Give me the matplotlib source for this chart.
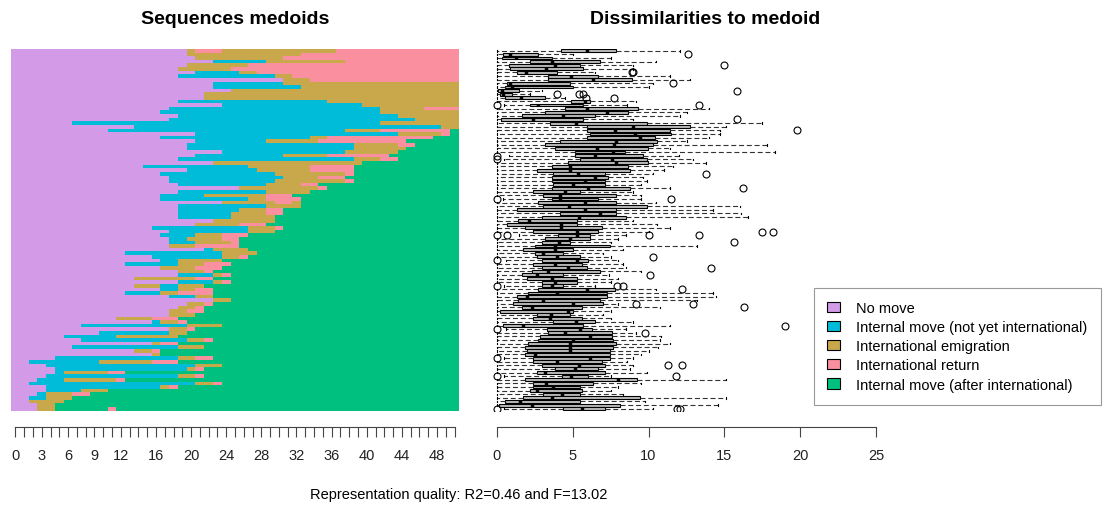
import matplotlib
matplotlib.use("Agg")
import matplotlib.pyplot as plt
from matplotlib.patches import Patch

plt.rcParams['font.family'] = ['Liberation Sans', 'DejaVu Sans']

# Etats et couleurs
state_codes = ["A", "B", "C", "D", "E"]
state_labels = ["No move",
                "Internal move (not yet international)",
                "International emigration",
                "International return",
                "Internal move (after international)"]
state_colors = ["#D39AE8", "#00BCD8", "#C8A84B", "#FA8FA0", "#00C080"]

# Sequences medoids (codage par plages : etat + duree), du haut vers le bas
seq_rows = [
    "A20 C1 D3 C13 D14", "A20 C13 D18", "A21 C10 D20", "A23 B6 C9 D13", "A20 C7 D24",
    "A19 C6 D26", "A21 B5 C2 D23", "A19 B11 C2 D19", "A31 C3 D17", "A23 B8 C20",
    "A23 B10 C18", "A25 C26", "A22 C29", "A22 C29", "A19 B17 C15",
    "A24 B16 C11", "A18 B24 C5 D4", "A17 B25 C9", "A19 B25 C7", "A18 B28 C5",
    "A7 B35 C9", "A14 B35 C2", "A11 B27 C4 D8 E1", "A21 B23 C5 D1 E1", "A17 B17 C2 D12 E3",
    "A21 B8 C6 D10 E6", "A20 B19 C5 D2 E5", "A20 B19 C6 E6", "A24 B14 C6 E7", "A21 B10 C5 D7 E8",
    "A19 B20 C3 D2 E7", "A23 C17 E11", "A15 B12 C7 D5 E12", "A20 B8 C6 D5 E12", "A17 B13 C8 D1 E12",
    "A18 B13 C4 D3 E13", "A18 B12 C8 D1 E12", "A19 B10 C4 D2 E16", "A26 C9 D1 E15", "A19 B10 C5 E17",
    "A17 B5 C7 D3 E19", "A17 B10 C2 D4 E18", "A24 C6 D2 C1 E18", "A19 B10 C4 E18", "A19 B7 C3 D2 E20",
    "A19 B6 C4 D2 E20", "A19 B6 C5 E21", "A23 C7 E21", "A21 C5 D3 E22", "A16 B11 C3 D1 E20",
    "A18 B9 C3 E21", "A17 B4 C3 D3 E24", "A18 B2 C4 D2 E25", "A18 B3 C4 D1 E25", "A18 C3 D5 E25",
    "A22 B1 C4 E24", "A13 B11 C4 E23", "A16 B8 C2 D1 E24", "A17 B2 C5 E27", "A13 B6 C3 D3 E26",
    "A17 C4 D3 E27", "A19 C3 D1 E28", "A19 B4 C1 D1 E26", "A14 C7 D2 E28", "A19 B4 C1 D1 E26",
    "A14 C3 B2 C3 E29", "A17 B2 C2 D2 E28", "A13 B4 C2 D4 E28", "A18 B3 C2 E28", "A23 C2 E26",
    "A20 C2 D1 E28", "A19 C2 D1 E29", "A18 C2 D2 E29", "A18 C3 E30", "A12 C4 D3 E32",
    "A16 B1 C2 D1 E31", "A8 B12 C4 E27", "A18 C2 D1 E30", "A10 B8 C2 E31", "A6 B6 C7 E32",
    "A8 B12 C2 D1 E28", "A16 C1 D2 E32", "A7 B12 C3 E29", "A14 C2 D1 E34", "A16 C1 E34",
    "A5 B14 C2 D2 E28", "A2 B8 C6 D3 E32", "A4 B17 C3 E27", "A5 B15 C1 D1 E29", "A5 B1 C5 D2 E38",
    "A4 B15 C2 D1 E29", "A3 B3 C6 D1 E38", "A2 B19 C2 D1 E27", "A4 B13 C1 D1 E32", "A4 B4 C3 E40",
    "A3 B1 C3 D2 E42", "A2 B2 C3 E44", "A2 C4 E45", "A3 C2 E46", "A3 C2 E6 D1 E39",
]

# Dissimilarites au medoide (statistiques des boites), meme ordre
box_q1 = [4.23, 0.44, 0.33, 2.19, 0.83, 0.88, 1.32, 3.40, 3.40, 0.66,
          0.55, 0.11, 0.22, 0.55, 4.93, 2.19, 4.50, 3.18, 1.64, 0.26,
          3.51, 5.96, 5.96, 6.14, 5.92, 4.17, 3.18, 3.84, 5.15, 5.15,
          5.48, 4.71, 3.62, 2.63, 3.73, 3.62, 3.62, 3.73, 3.62, 2.41,
          3.07, 3.62, 2.74, 3.07, 1.32, 4.17, 2.96, 1.43, 0.70, 1.86,
          2.41, 4.06, 3.18, 2.96, 2.52, 1.75, 2.52, 2.63, 2.96, 2.41,
          2.96, 2.30, 1.64, 1.97, 2.96, 2.96, 2.74, 2.08, 1.32, 1.43,
          1.10, 1.64, 0.22, 2.63, 2.41, 3.73, 0.44, 3.29, 3.40, 2.85,
          2.74, 2.08, 1.86, 1.97, 1.86, 2.41, 2.41, 2.96, 3.84, 2.63,
          4.28, 1.86, 2.41, 2.41, 2.19, 3.07, 1.75, 0.55, 0.18, 4.39]
box_med = [5.96, 0.88, 1.27, 3.62, 3.84, 3.22, 1.91, 4.87, 6.36, 0.88,
           0.99, 0.33, 0.44, 1.58, 5.81, 2.74, 5.96, 7.24, 4.34, 2.41,
           5.20, 8.99, 7.79, 9.10, 9.43, 7.89, 7.74, 6.58, 7.68, 6.47,
           7.57, 7.89, 4.82, 4.82, 5.37, 6.47, 5.81, 5.04, 6.03, 4.50,
           4.17, 4.17, 5.81, 4.78, 5.81, 6.80, 5.44, 2.15, 4.23, 4.21,
           5.26, 5.26, 4.82, 4.12, 3.84, 3.84, 3.07, 3.95, 5.26, 3.84,
           4.71, 3.40, 2.63, 3.62, 3.84, 3.62, 5.92, 3.95, 1.97, 3.07,
           5.04, 2.30, 4.71, 3.55, 3.51, 5.20, 1.75, 5.48, 4.50, 6.14,
           5.04, 4.82, 4.82, 4.82, 2.52, 6.14, 3.95, 5.44, 5.15, 3.18,
           4.87, 8.00, 3.25, 3.68, 2.63, 4.28, 3.62, 1.54, 2.30, 5.59]
box_q3 = [7.89, 2.74, 3.62, 6.80, 5.48, 5.70, 3.95, 6.69, 8.88, 4.82,
          5.04, 1.50, 0.99, 3.18, 6.14, 5.70, 9.32, 8.66, 6.47, 5.70,
          9.87, 12.72, 11.40, 11.51, 10.42, 10.53, 10.31, 9.98, 8.44, 9.65,
          9.87, 9.98, 8.66, 8.77, 7.13, 7.35, 7.13, 7.13, 8.77, 5.48,
          7.89, 6.69, 7.89, 9.87, 7.89, 7.89, 8.55, 5.26, 5.26, 6.91,
          6.69, 6.14, 6.14, 4.82, 7.46, 5.04, 4.39, 5.48, 6.03, 5.59,
          5.92, 6.80, 4.39, 5.26, 5.26, 4.39, 7.79, 7.24, 7.24, 6.80,
          7.02, 5.59, 5.04, 4.82, 5.59, 6.47, 5.70, 6.25, 7.57, 7.57,
          7.68, 7.89, 7.68, 7.46, 7.46, 7.46, 6.91, 7.13, 6.69, 7.13,
          6.03, 9.21, 6.36, 5.48, 5.59, 5.48, 9.43, 5.48, 8.11, 7.13]
box_lo = [0, 0, 0, 0, 0, 0, 0, 0, 0, 0,
          0, 0, 0, 0, 0, 0.5, 0, 0, 0, 0,
          0, 0, 0, 0, 0, 0, 0, 0, 0, 0.8,
          0.5, 0, 0, 0, 0, 0, 0, 0, 0, 0,
          0, 0.4, 0, 0, 0, 0, 0, 0, 0, 0,
          0, 1.5, 0, 0, 0, 0, 0, 0, 0.6, 0,
          0, 0, 0, 0, 0, 0.5, 0, 0, 0, 0,
          0, 0, 0, 0, 0, 0, 0, 0.6, 0, 0,
          0, 0, 0, 0, 0, 0.5, 0, 0, 0, 0,
          0.5, 0, 0, 0, 0, 0, 0, 0, 0, 0.5]
box_hi = [12.1, 5.0, 7.5, 10.5, 9.0, 9.0, 6.5, 11.4, 12.7, 10.3,
          10.0, 3.0, 2.2, 4.5, 9.2, 8.6, 14.0, 12.5, 12.1, 9.0,
          17.5, 15.1, 14.7, 14.7, 14.0, 12.5, 17.8, 11.4, 18.3, 12.0,
          12.9, 13.8, 11.6, 11.0, 10.3, 9.65, 9.87, 9.5, 11.4, 8.99,
          9.5, 9.5, 10.5, 16.0, 14.25, 16.12, 16.56, 8.99, 10.53, 11.4,
          10.0, 8.5, 8.0, 7.5, 13.16, 8.33, 7.0, 7.5, 8.0, 8.3,
          8.5, 9.5, 7.4, 8.0, 7.5, 6.5, 10.5, 14.25, 14.47, 13.16,
          8.0, 10.75, 7.5, 7.0, 7.5, 9.0, 11.4, 8.5, 9.2, 10.8,
          10.75, 11.4, 10.6, 10.0, 9.5, 9.0, 8.6, 9.0, 8.8, 9.9,
          7.5, 15.13, 9.5, 8.0, 7.5, 8.3, 15.13, 9.8, 14.6, 10.3]
box_fliers = {0: [], 1: [12.6], 4: [15.0], 6: [8.9, 9.0], 9: [11.6], 11: [15.8],
              12: [3.95, 5.4, 5.7], 13: [5.9, 7.7], 15: [0.0, 13.3], 19: [15.8],
              22: [19.8], 29: [0.0], 30: [0.0], 34: [13.8], 38: [16.2],
              41: [0.0, 11.5], 50: [17.5, 18.2], 51: [0.0, 0.7, 10.0, 13.3],
              53: [15.6], 57: [10.3], 58: [0.0], 60: [14.1], 62: [10.1],
              65: [0.0, 7.9, 8.3], 66: [12.2], 70: [9.2, 12.9], 71: [16.3],
              76: [19.0], 77: [0.0], 78: [9.8], 85: [0.0], 87: [11.3, 12.2],
              90: [0.0, 11.8], 99: [0.0, 11.9, 12.1]}

x_ticks_left = list(range(0, 51))
x_labels_left = [0, 3, 6, 9, 12, 16, 20, 24, 28, 32, 36, 40, 44, 48]
x_ticks_right = [0, 5, 10, 15, 20, 25]

n_rows = len(seq_rows)
W, H = 1105, 506
fig = plt.figure(figsize=(W / 100, H / 100), dpi=100)

bottom = (H - 411.5) / H
height = 361.5 / H
ax1 = fig.add_axes([11 / W, bottom, 448 / W, height])
ax2 = fig.add_axes([489 / W, bottom, 395 / W, height])

# --- Panneau gauche : tapis de sequences
color_of = dict(zip(state_codes, state_colors))
for i, row in enumerate(seq_rows):
    start = 0
    for token in row.split():
        code, length = token[0], int(token[1:])
        ax1.barh(i, length, left=start - 0.5, height=1.0,
                 color=color_of[code], linewidth=0)
        start += length

ax1.set_xlim(-0.5, 50.5)
ax1.set_ylim(n_rows - 0.5, -0.5)

# --- Panneau droit : boites a moustaches
stats = []
for i in range(n_rows):
    stats.append(dict(q1=box_q1[i], med=box_med[i], q3=box_q3[i],
                      whislo=box_lo[i], whishi=box_hi[i],
                      fliers=box_fliers.get(i, [])))
ax2.bxp(stats, positions=range(n_rows), orientation='horizontal',
        widths=0.8, capwidths=0.4, patch_artist=True, manage_ticks=False,
        boxprops=dict(facecolor='#BDBDBD', edgecolor='black', linewidth=0.8),
        whiskerprops=dict(color='#333333', linewidth=0.8, linestyle=(0, (4.5, 2.5))),
        capprops=dict(color='black', linewidth=0.8),
        medianprops=dict(color='black', linewidth=2.5),
        flierprops=dict(marker='o', markerfacecolor='none',
                        markeredgecolor='black', markersize=5,
                        markeredgewidth=0.8))
ax2.set_xlim(-0.5, 25.5)
ax2.set_ylim(n_rows - 0.5, -0.5)

# Axes facon R
for ax, ticks, lo, hi in [(ax1, x_ticks_left, 0, 50), (ax2, x_ticks_right, 0, 25)]:
    for side in ['left', 'right', 'top']:
        ax.spines[side].set_visible(False)
    ax.spines['bottom'].set_position(('outward', 12))
    ax.spines['bottom'].set_bounds(lo, hi)
    ax.spines['bottom'].set_color('#444444')
    ax.set_yticks([])
    ax.set_xticks(ticks)
    ax.tick_params(axis='x', length=7, color='#444444', pad=8,
                   labelsize=10.5, labelcolor='#222222')

ax1.set_xticklabels([str(t) if t in x_labels_left else '' for t in x_ticks_left])
ax2.set_xticklabels([str(t) for t in x_ticks_right])

# Titres
fig.text(235 / W, 1 - 20 / H, "Sequences medoids", ha='center', va='center',
         fontsize=14, fontweight='bold')
fig.text(705 / W, 1 - 20 / H, "Dissimilarities to medoid", ha='center', va='center',
         fontsize=14, fontweight='bold')
fig.text(459 / W, 1 - 495 / H, "Representation quality: R2=0.46 and F=13.02",
         ha='center', va='center', fontsize=10.5)

# Legende
handles = [Patch(facecolor=c, edgecolor='black', linewidth=0.8) for c in state_colors]
leg = fig.legend(handles, state_labels, loc='upper left',
                 bbox_to_anchor=(814 / W, 1 - 289 / H), frameon=True, fancybox=False,
                 edgecolor='#808080', fontsize=10.5, handlelength=0.9,
                 handleheight=0.7, handletextpad=1.1, labelspacing=0.35,
                 borderpad=0.9, borderaxespad=0)
leg.get_frame().set_linewidth(0.8)

fig.savefig("out.png", dpi=100)
